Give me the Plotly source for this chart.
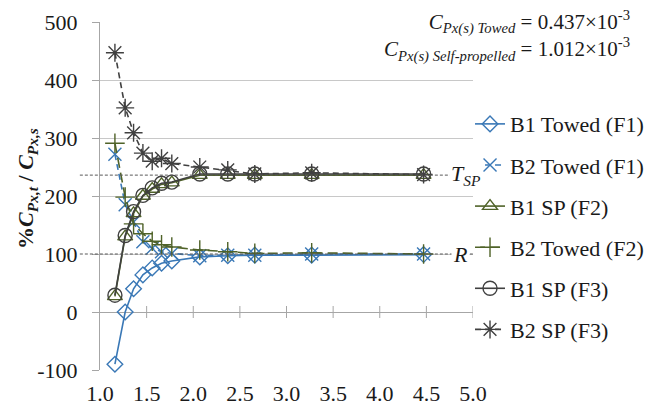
import plotly.graph_objects as go

# ---- data ----
x_vals = [1.16, 1.27, 1.36, 1.46, 1.56, 1.66, 1.77, 2.07, 2.37, 2.66, 3.27, 4.47]
b1_towed_f1 = [-90, 0, 40, 64, 76, 84, 88, 95, 97, 98, 98, 99]
b2_towed_f1 = [272, 185, 155, 121, 110, 104, 101, 97, 98, 98, 100, 100]
b1_sp_f2 = [27, 130, 170, 200, 212, 220, 223, 236, 236, 236, 236, 236]
b2_towed_f2 = [291, 198, 152, 135, 122, 116, 112, 107, 104, 101, 102, 100]
b1_sp_f3 = [29, 132, 173, 201, 214, 222, 224, 238, 238, 238, 238, 238]
b2_sp_f3 = [447, 352, 309, 274, 260, 265, 256, 250, 245, 238, 240, 237]

series_names = ["B1 Towed (F1)", "B2 Towed (F1)", "B1 SP (F2)",
                "B2 Towed (F2)", "B1 SP (F3)", "B2 SP (F3)"]

R_LEVEL = 100
TSP_LEVEL = 236

x_ticks = [1.0, 1.5, 2.0, 2.5, 3.0, 3.5, 4.0, 4.5, 5.0]
y_ticks = [-100, 0, 100, 200, 300, 400, 500]

BLUE = "#3A78B6"
GREEN = "#4F6228"
GRAY = "#404040"
FONT = "Liberation Serif"

styles = [
    dict(color=BLUE, dash="solid", symbol="diamond-open", size=12),
    dict(color=BLUE, dash="6px,4px", symbol="x-thin-open", size=13),
    dict(color=GREEN, dash="solid", symbol="triangle-up-open", size=13),
    dict(color=GREEN, dash="10px,5px", symbol="cross-thin-open", size=14),
    dict(color=GRAY, dash="solid", symbol="circle-open", size=14),
    dict(color=GRAY, dash="6px,4px", symbol="asterisk-open", size=15),
]
data = [b1_towed_f1, b2_towed_f1, b1_sp_f2, b2_towed_f2, b1_sp_f3, b2_sp_f3]

fig = go.Figure()
for i, (name, ys, st) in enumerate(zip(series_names, data, styles)):
    fig.add_trace(go.Scatter(
        x=x_vals, y=ys, name=name, mode="lines+markers",
        legendgroup=f"g{i}",
        line=dict(color=st["color"], width=1.6, dash=st["dash"]),
        marker=dict(symbol=st["symbol"], size=st["size"], color=st["color"],
                    line=dict(color=st["color"], width=1.4)),
        cliponaxis=False,
    ))

# reference dashed lines
for lvl in (R_LEVEL, TSP_LEVEL):
    fig.add_shape(type="line", xref="paper", yref="y",
                  x0=-0.054, x1=1.0, y0=lvl, y1=lvl,
                  line=dict(color="#595959", width=1, dash="3px,2px"),
                  layer="above")

# tick marks crossing the y = 0 axis
for xt in x_ticks[1:]:
    fig.add_shape(type="line", xref="x", yref="y", ysizemode="pixel", yanchor=0,
                  x0=xt, x1=xt, y0=-6, y1=6,
                  line=dict(color="#A6A6A6", width=1), layer="below")

fig.add_annotation(xref="paper", yref="y", x=0.935, y=TSP_LEVEL,
                   xanchor="left", yanchor="middle", showarrow=False,
                   text="<i>T<sub>SP</sub></i>", bgcolor="white",
                   font=dict(family=FONT, size=22, color="#1a1a1a"))
fig.add_annotation(xref="paper", yref="y", x=0.94, y=R_LEVEL,
                   xanchor="left", yanchor="middle", showarrow=False,
                   text="<i>R</i>", bgcolor="white",
                   font=dict(family=FONT, size=22, color="#1a1a1a"))
fig.add_annotation(xref="paper", yref="paper", x=1.426, y=1.05,
                   xanchor="right", yanchor="top", showarrow=False, align="right",
                   text=("<i>C<sub>Px(s) Towed</sub></i> = 0.437×10<sup>-3</sup><br>"
                         "<i>C<sub>Px(s) Self-propelled</sub></i> = 1.012×10<sup>-3</sup>"),
                   bgcolor="white",
                   font=dict(family=FONT, size=21, color="#1a1a1a"))
# y-axis title
fig.add_annotation(xref="paper", yref="paper", x=-0.196, y=0.523,
                   xanchor="center", yanchor="middle", showarrow=False, textangle=-90,
                   text="<b>%<i>C<sub>Px,t</sub></i> / <i>C<sub>Px,s</sub></i></b>",
                   font=dict(family=FONT, size=22, color="#1a1a1a"))

fig.update_layout(
    width=649, height=414,
    margin=dict(l=100, r=176, t=22, b=44, autoexpand=False),
    paper_bgcolor="white", plot_bgcolor="white",
    font=dict(family=FONT, size=22, color="#1a1a1a"),
    showlegend=True,
    legend=dict(x=0.992, y=0.767, xanchor="left", yanchor="top",
                tracegroupgap=9.5, font=dict(family=FONT, size=22),
                bgcolor="rgba(0,0,0,0)", itemwidth=30),
    xaxis=dict(range=[1, 5], tickvals=x_ticks,
               ticktext=[f"{v:.1f}" for v in x_ticks],
               showgrid=False, zeroline=False, showline=False, ticks="",
               ticklabelstandoff=8),
    yaxis=dict(range=[-100, 500], tickvals=y_ticks,
               ticktext=[str(v) for v in y_ticks],
               showgrid=True, gridcolor="#C8C8C8", gridwidth=1,
               zeroline=True, zerolinecolor="#A6A6A6", zerolinewidth=1,
               showline=True, linecolor="#A6A6A6", linewidth=1,
               ticks="outside", ticklen=7, tickcolor="#A6A6A6",
               ticklabelstandoff=10),
)

fig.write_html("out.html")
